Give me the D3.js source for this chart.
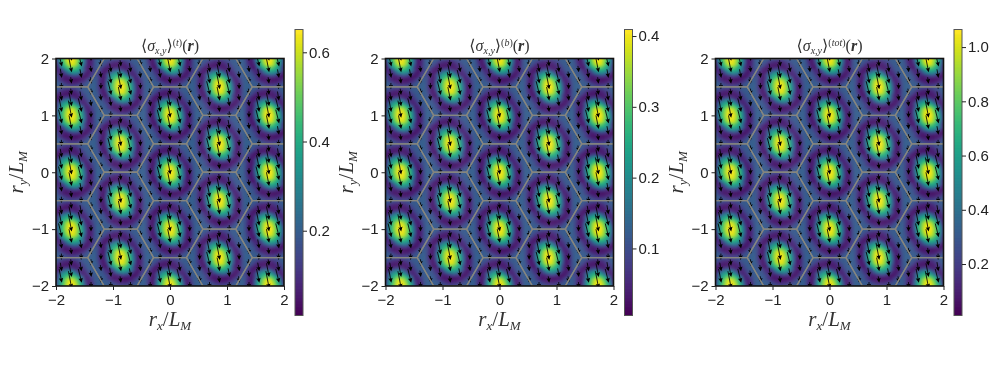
<!DOCTYPE html>
<html><head><meta charset="utf-8">
<style>html,body{margin:0;padding:0;background:#fff}svg{display:block;filter:blur(0.35px)}</style>
<script src="https://cdn.jsdelivr.net/npm/d3@7"></script></head><body>
<svg id="c" width="997" height="369"></svg>
<script>
const panelLabels = ["t", "b", "tot"];
const panelMin = [0.011, 0.006, 0.012];
const panelMax = [0.650, 0.4085, 1.063];
const colorbarTicks = [[0.2, 0.4, 0.6], [0.1, 0.2, 0.3, 0.4], [0.2, 0.4, 0.6, 0.8, 1.0]];
const axisTicks = [-2, -1, 0, 1, 2];
const latticeX = Math.sqrt(3) / 2;
const hexCorners = [[0.5774, 0], [0.2887, 0.5], [-0.2887, 0.5], [-0.5774, 0], [-0.2887, -0.5], [0.2887, -0.5]];
// Heat levels over one lattice tile (top row first), as a fraction of the colour range
const tileLevels = [
[.30,.29,.28,.27,.24,.21,.19,.18,.18,.20,.23,.26,.28,.28,.29,.30,.30],
[.29,.28,.26,.22,.16,.11,.09,.08,.08,.10,.14,.19,.25,.28,.28,.29,.29],
[.28,.27,.22,.14,.08,.06,.06,.06,.07,.07,.09,.13,.19,.25,.28,.28,.29],
[.26,.20,.11,.06,.06,.11,.17,.19,.16,.11,.08,.10,.15,.22,.27,.28,.28],
[.23,.15,.07,.08,.18,.31,.40,.43,.40,.32,.20,.10,.10,.16,.24,.27,.28],
[.20,.10,.06,.16,.34,.49,.58,.61,.60,.52,.38,.20,.10,.11,.19,.26,.28],
[.23,.12,.06,.15,.37,.56,.68,.77,.78,.73,.62,.45,.25,.09,.11,.20,.26],
[.22,.10,.06,.21,.45,.65,.81,.92,.95,.88,.75,.58,.37,.13,.08,.15,.25],
[.22,.09,.06,.25,.49,.68,.84,.95,.98,.94,.82,.65,.45,.20,.07,.12,.23],
[.22,.09,.06,.24,.49,.70,.85,.97,1.0,.97,.85,.70,.49,.24,.06,.10,.22],
[.23,.11,.06,.19,.45,.65,.82,.94,.98,.95,.84,.68,.49,.25,.06,.09,.22],
[.25,.14,.06,.11,.37,.58,.75,.88,.95,.92,.81,.65,.45,.21,.06,.10,.22],
[.26,.19,.08,.06,.25,.45,.62,.73,.78,.77,.68,.56,.37,.15,.06,.12,.23],
[.28,.26,.19,.11,.10,.20,.38,.52,.60,.61,.58,.49,.34,.16,.06,.10,.20],
[.28,.27,.24,.16,.10,.10,.20,.32,.40,.43,.40,.31,.18,.08,.07,.15,.23],
[.28,.28,.27,.22,.15,.10,.08,.11,.16,.19,.17,.11,.06,.06,.11,.20,.26],
[.29,.28,.28,.24,.16,.09,.06,.06,.05,.05,.05,.06,.08,.14,.22,.27,.28],
[.29,.29,.28,.28,.25,.19,.14,.10,.08,.08,.09,.11,.16,.22,.26,.28,.29],
[.30,.30,.29,.28,.28,.26,.23,.20,.18,.18,.19,.21,.24,.27,.28,.29,.30]
];
// Arrow components on the 5×5 sampling of the lattice cell (rows n=-2..2, columns m=-2..2)
const arrowDy = [
[-.07,-.07,-.07,-.11,-.07],
[-.07,-.12,-.20,-.20,-.07],
[-.07,-.20,-.26,-.20,-.07],
[-.07,-.20,-.20,-.12,-.07],
[-.07,-.11,-.07,-.07,-.07]
];
const arrowDx = [
[.01,.00,.01,.02,.01],
[.00,.02,.04,.05,.00],
[.01,.05,.05,.05,.01],
[.00,.04,.04,.02,.00],
[.01,.02,.01,.00,.01]
];

const panelLeft = [56, 385.5, 715.5];
const axW = 228, axTop = 58.5, axH = 227.5;
const barLeft = [295, 624.5, 954];
const barW = 8, barTop = 30, barBottom = 315;
const svg = d3.select("#c");
const defs = svg.append("defs");
const tickFont = "'Liberation Sans',Arial,sans-serif";
const mathFont = "'Liberation Serif','DejaVu Serif',serif";
const cellW = latticeX / 17, cellH = 1 / 19;
const mod5 = v => ((v % 5) + 5) % 5;

panelLabels.forEach((label, p) => {
  const x = d3.scaleLinear().domain([-2, 2]).range([panelLeft[p], panelLeft[p] + axW]);
  const y = d3.scaleLinear().domain([-2, 2]).range([axTop + axH, axTop]);
  const color = d3.scaleSequential(d3.interpolateViridis).domain([panelMin[p], panelMax[p]]);
  const level = v => panelMin[p] + v * (panelMax[p] - panelMin[p]);
  const g = svg.append("g");
  defs.append("clipPath").attr("id", "clip" + p).append("rect")
    .attr("x", x(-2)).attr("y", y(2)).attr("width", axW).attr("height", axH);
  const plot = g.append("g").attr("clip-path", `url(#clip${p})`);

  // heat cells
  const cells = [];
  const centers = [];
  for (let m = -3; m <= 3; m++) for (let k = -3; k <= 3; k++) {
    const cx = m * latticeX, cy = k + (Math.abs(m) % 2 ? 0.5 : 0);
    centers.push([cx, cy]);
    tileLevels.forEach((row, r) => row.forEach((v, c) => {
      const px = cx + (c - 8) * cellW, py = cy + (9 - r) * cellH;
      if (px > -2.1 && px < 2.1 && py > -2.1 && py < 2.1) cells.push({px, py, v});
    }));
  }
  plot.append("g").style("filter", "blur(1px)").selectAll("rect").data(cells).join("rect")
    .attr("x", d => x(d.px - cellW / 2)).attr("y", d => y(d.py + cellH / 2))
    .attr("width", x(cellW) - x(0) + 0.4).attr("height", y(0) - y(cellH) + 0.4)
    .attr("fill", d => color(level(d.v)));

  // arrows
  const arrows = [];
  for (let m = -14; m <= 14; m++) for (let n = -26; n <= 26; n++) {
    const ax = m * latticeX / 5, ay = m / 10 + n / 5;
    if (Math.abs(ax) > 2.02 || Math.abs(ay) > 2.02) continue;
    const row = mod5(n + 2), col = mod5(m + 2);
    arrows.push({ax, ay, dx: arrowDx[row][col], dy: arrowDy[row][col]});
  }
  const gA = plot.append("g");
  gA.selectAll("line").data(arrows).join("line")
    .attr("x1", d => x(d.ax - d.dx)).attr("y1", d => y(d.ay - d.dy))
    .attr("x2", d => x(d.ax)).attr("y2", d => y(d.ay))
    .attr("stroke", "#000").attr("stroke-width", 0.85);
  gA.selectAll("path").data(arrows).join("path")
    .attr("d", "M0,2.4L-2.2,-2.2L0,-1.5L2.2,-2.2Z").attr("fill", "#000")
    .attr("transform", d => {
      const a = Math.atan2(-d.dx, -d.dy) * 180 / Math.PI;
      return `translate(${x(d.ax)},${y(d.ay)}) rotate(${a})`;
    });

  // hexagon boundaries
  const hexLine = d3.line().x(d => x(d[0])).y(d => y(d[1])).curve(d3.curveLinearClosed);
  plot.append("g").selectAll("path").data(centers).join("path")
    .attr("d", ([cx, cy]) => hexLine(hexCorners.map(h => [cx + h[0], cy + h[1]])))
    .attr("fill", "none").attr("stroke", "#85857f").attr("stroke-width", 1.3);

  // spines and axes
  g.append("rect").attr("x", x(-2)).attr("y", y(2)).attr("width", axW).attr("height", axH)
    .attr("fill", "none").attr("stroke", "#111").attr("stroke-width", 1.6);
  const ax = g.append("g").attr("transform", `translate(0,${y(-2)})`)
    .call(d3.axisBottom(x).tickValues(axisTicks).tickSize(4).tickPadding(4).tickFormat(d => String(d).replace("-", "\u2212")));
  const ay = g.append("g").attr("transform", `translate(${x(-2)},0)`)
    .call(d3.axisLeft(y).tickValues(axisTicks).tickSize(4).tickPadding(3).tickFormat(d => String(d).replace("-", "\u2212")));
  [ax, ay].forEach(a => {
    a.select(".domain").remove();
    a.selectAll("line").attr("stroke", "#222");
    a.selectAll("text").attr("font-family", tickFont).attr("font-size", 15).attr("fill", "#222");
  });

  // colorbar
  const by = d3.scaleLinear().domain([panelMin[p], panelMax[p]]).range([barBottom, barTop]);
  const steps = d3.range(0, 96).map(i => panelMin[p] + (i / 95) * (panelMax[p] - panelMin[p]));
  const cb = g.append("g");
  cb.selectAll("rect").data(steps).join("rect")
    .attr("x", barLeft[p]).attr("width", barW)
    .attr("y", d => Math.max(by(d) - 2, barTop)).attr("height", d => Math.min(3.6, barBottom - (by(d) - 2))).attr("fill", d => color(d));
  cb.append("rect").attr("x", barLeft[p]).attr("y", barTop - 0.5).attr("width", barW).attr("height", barBottom - barTop + 1)
    .attr("fill", "none").attr("stroke", "#555").attr("stroke-width", 1);
  const cax = g.append("g").attr("transform", `translate(${barLeft[p] + barW},0)`)
    .call(d3.axisRight(by).tickValues(colorbarTicks[p]).tickSize(4).tickPadding(2).tickFormat(d3.format(".1f")));
  cax.select(".domain").remove();
  cax.selectAll("line").attr("stroke", "#222");
  cax.selectAll("text").attr("font-family", tickFont).attr("font-size", 15).attr("fill", "#222");

  // title
  const t = g.append("text").attr("x", x(0)).attr("y", 51).attr("text-anchor", "middle")
    .attr("font-family", mathFont).attr("font-size", 16).attr("fill", "#333");
  t.append("tspan").text("\u27E8");
  t.append("tspan").attr("font-style", "italic").text("\u03C3");
  t.append("tspan").attr("font-style", "italic").attr("font-size", 10).attr("dy", 3).text("x,y");
  t.append("tspan").attr("dy", -3).text("\u27E9");
  t.append("tspan").attr("font-size", 10).attr("dy", -5).text("(");
  t.append("tspan").attr("font-size", 10).attr("font-style", "italic").text(label);
  t.append("tspan").attr("font-size", 10).text(")");
  t.append("tspan").attr("dy", 5).text("(");
  t.append("tspan").attr("font-style", "italic").attr("font-weight", "bold").text("r");
  t.append("tspan").text(")");

  // axis labels
  const axisLabel = (sel, sub) => {
    sel.attr("text-anchor", "middle").attr("font-family", mathFont).attr("font-size", 21).attr("fill", "#333");
    sel.append("tspan").attr("font-style", "italic").text("r");
    sel.append("tspan").attr("font-style", "italic").attr("font-size", 13).attr("dy", 4).text(sub);
    sel.append("tspan").attr("dy", -4).text("/");
    sel.append("tspan").attr("font-style", "italic").text("L");
    sel.append("tspan").attr("font-style", "italic").attr("font-size", 13).attr("dy", 4).text("M");
  };
  axisLabel(g.append("text").attr("x", x(0)).attr("y", 326), "x");
  axisLabel(g.append("text").attr("transform", `translate(${x(-2) - 33},${y(0)}) rotate(-90)`), "y");
});
</script></body></html>
